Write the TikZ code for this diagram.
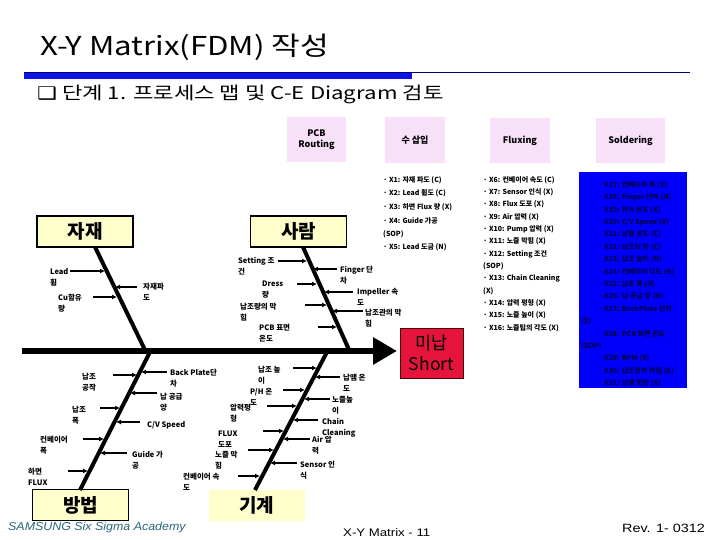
\documentclass[tikz,border=0pt]{standalone}
\usepackage{fontspec}
\setmainfont{Noto Sans CJK KR}
\newfontfamily\libsans{Liberation Sans}
\newfontfamily\djsans{DejaVu Sans}
\usetikzlibrary{arrows.meta}
\definecolor{barblue}{RGB}{10,20,230}
\definecolor{navyline}{RGB}{0,0,110}
\definecolor{pinkfill}{RGB}{249,224,249}
\definecolor{catfill}{RGB}{255,255,204}
\definecolor{shortred}{RGB}{228,20,60}
\definecolor{boxblue}{RGB}{0,0,250}
\definecolor{bluetxt}{RGB}{0,0,70}
\definecolor{teal}{RGB}{40,100,120}
\tikzset{
  pinkbox/.style={fill=pinkfill, font=\bfseries\fontsize{9}{11}\selectfont, align=center, inner sep=0},
  catbox/.style={fill=catfill, draw=black, line width=1.3pt, minimum width=96pt, minimum height=31pt, inner sep=0, font=\bfseries\fontsize{19}{22}\selectfont},
  bone/.style={line width=4pt},
  subarrow/.style={line width=1.3pt, -{Latex[length=5pt,width=5pt]}},
  lbl/.style={anchor=north west, inner sep=0, align=left, font=\bfseries\fontsize{7.5}{11}\selectfont},
  listtxt/.style={anchor=west, inner sep=0, font=\bfseries\fontsize{7}{8}\selectfont},
}
\begin{document}
\begin{tikzpicture}[x=1pt,y=-1pt]
\useasboundingbox (0,0) rectangle (720,540);
% header
\node[anchor=west, inner sep=0, font=\fontsize{26}{30}\selectfont] (title) at (40,47) {\scalebox{1.2}[1]{X-Y Matrix(FDM) 작성}};
\fill[barblue] (24,72) rectangle (412,79);
\draw[navyline, line width=1pt] (24,72.5) -- (690,72.5);
\node[anchor=west, inner sep=0, font=\fontsize{17.5}{20}\selectfont] (subtitle) at (37,94) {\scalebox{1.27}[1]{{\djsans ❑} 단계 1. 프로세스 맵 및 C-E Diagram 검토}};
% process boxes
\node[pinkbox, minimum width=59pt, minimum height=45pt] (pcb) at (316.5,139.5) {PCB\\Routing};
\node[pinkbox, minimum width=60pt, minimum height=46pt] (ins) at (415,140) {수 삽입};
\node[pinkbox, minimum width=60pt, minimum height=45pt] (flux) at (520,140.5) {Fluxing};
\node[pinkbox, minimum width=69pt, minimum height=45pt] (sold) at (630.5,140.5) {Soldering};
% list 1
\foreach \t [count=\i from 0] in {{· X1: 자재 파도 (C)},{· X2: Lead 휨도 (C)},{· X3: 하면 Flux 량 (X)},{· X4: Guide 가공},{(SOP)},{· X5: Lead 도금 (N)}}
  \node[listtxt] (la\i) at (383,180+13.5*\i) {\t};
% list 2
\foreach \t [count=\i from 0] in {{· X6: 컨베이어 속도 (C)},{· X7: Sensor 인식 (X)},{· X8: Flux 도포 (X)},{· X9: Air 압력 (X)},{· X10: Pump 압력 (X)},{· X11: 노즐 막힘 (X)},{· X12: Setting 조건},{(SOP)},{· X13: Chain Cleaning},{(X)},{· X14: 압력 평형 (X)},{· X15: 노즐 높이 (X)},{· X16: 노즐팁의 각도 (X)}}
  \node[listtxt] (lb\i) at (483,180+12.33*\i) {\t};
% list 3 (blue box)
\fill[boxblue] (579,172) rectangle (687,388);
\foreach \t [count=\i from 0] in {{· X17: 컨베이어 폭 (X)},{· X18: Finger 단차 (N)},{· X19: P/H 온도 (X)},{· X20: C/V Speed (X)},{· X21: 납땜 온도 (C)},{· X22: 납조의 양 (C)},{· X23: 납조 높이 (N)},{· X24: 컨베이어 각도 (N)},{· X25: 납조 폭 (N)},{· X26: 납 공급 양 (N)},{· X27: BackPlate 단차},{(X)},{· X28: PCB 표면 온도},{(SOP)},{· X29: RPM (X)},{· X30: 납조관의 막힘 (X)},{· X31: 납땜 방향 (X)}}
  \node[listtxt, text=bluetxt] (lc\i) at (\ifnum\i=11 581\else\ifnum\i=13 581\else 598\fi\fi,185+12.4*\i) {\t};
% category boxes
\node[catbox] (mat) at (85,231.5) {자재};
\node[catbox] (man) at (298.5,231.5) {사람};
\node[catbox] (meth) at (80.5,505) {방법};
\node[catbox, draw=none] (mach) at (256.5,505) {기계};
% effect
\node[fill=shortred, draw=black!70!red, line width=1pt, minimum width=63pt, minimum height=50pt, inner sep=0, align=center, font=\fontsize{17.5}{21}\selectfont] (eff) at (431.5,353) {미납\\Short};
% spine
\coordinate (sp0) at (22,351);
\coordinate (sp1) at (397,351);
\draw[line width=6pt, -{Triangle[length=24pt,width=26pt]}] (sp0) -- (sp1);
% bones
\draw[bone] (95,247) -- (146,352);
\draw[bone] (303,247) -- (350,352);
\draw[bone] (151,350) -- (80,490);
\draw[bone] (328,350) -- (255,490);
% material
\node[lbl] at (50,268) {Lead\\휨};
\draw[subarrow] (70,271) -- (105,271);
\node[lbl] at (58,294) {Cu함유\\량};
\draw[subarrow] (93,297) -- (117,297);
\node[lbl] at (143,283) {자재파\\도};
\draw[subarrow] (137,287) -- (115,287);
% man
\node[lbl] at (238,257) {Setting 조\\건};
\draw[subarrow] (278,261) -- (307,261);
\node[lbl] at (262,281) {Dress\\량};
\draw[subarrow] (297,284) -- (317,284);
\node[lbl] at (240,303) {납조량의 막\\힘};
\draw[subarrow] (305,305) -- (327,305);
\node[lbl] at (259,324) {PCB 표면\\온도};
\draw[subarrow] (318,327) -- (337,327);
\node[lbl] at (340,266) {Finger 단\\차};
\draw[subarrow] (337,269) -- (313,269);
\node[lbl] at (357,288) {Impeller 속\\도};
\draw[subarrow] (353,292) -- (324,292);
\node[lbl] at (365,309) {납조관의 막\\힘};
\draw[subarrow] (363,311) -- (332,311);
% method
\node[lbl] at (82,373) {납조\\공작};
\draw[subarrow] (113,375) -- (137,375);
\node[lbl] at (72,406) {납조\\폭};
\draw[subarrow] (100,408) -- (120,408);
\node[lbl] at (40,436) {컨베이어\\폭};
\draw[subarrow] (83,439) -- (104,439);
\node[lbl] at (28,468) {하면\\FLUX};
\draw[subarrow] (68,471) -- (88,471);
\node[lbl] at (170,369) {Back Plate단\\차};
\draw[subarrow] (167,372) -- (141,372);
\node[lbl] at (160,393) {납 공급\\양};
\draw[subarrow] (157,393) -- (130,393);
\node[lbl] at (147,421) {C/V Speed};
\draw[subarrow] (140,422) -- (116,422);
\node[lbl] at (132,451) {Guide 가\\공};
\draw[subarrow] (127,453) -- (100,453);
% machine
\node[lbl] at (258,366) {납조 높\\이};
\draw[subarrow] (293,368) -- (317,368);
\node[lbl] at (250,388) {P/H 온\\도};
\draw[subarrow] (283,390) -- (305,390);
\node[lbl] at (230,404) {압력평\\형};
\draw[subarrow] (267,406) -- (297,406);
\node[lbl] at (218,431) {FLUX\\도포};
\draw[subarrow] (263,431) -- (284,431);
\node[lbl] at (215,451) {노즐 막\\힘};
\draw[subarrow] (248,450) -- (274,450);
\node[lbl] at (183,473) {컨베이어 속\\도};
\draw[subarrow] (238,476) -- (260,476);
\node[lbl] at (343,374) {납땜 온\\도};
\draw[subarrow] (340,377) -- (315,377);
\node[lbl] at (332,396) {노즐높\\이};
\draw[subarrow] (330,399) -- (304,399);
\node[lbl] at (322,418) {Chain\\Cleaning};
\draw[subarrow] (318,420) -- (293,420);
\node[lbl] at (312,436) {Air 압\\력};
\draw[subarrow] (310,439) -- (283,439);
\node[lbl] at (300,461) {Sensor 인\\식};
\draw[subarrow] (297,463) -- (270,463);
% footer
\node[anchor=west, inner sep=0, text=teal, font=\libsans\itshape\fontsize{11.5}{13}\selectfont] (foot1) at (8,528) {\scalebox{1.08}[1]{SAMSUNG Six Sigma Academy}};
\node[anchor=west, inner sep=0, font=\libsans\fontsize{11}{13}\selectfont] (foot2) at (343,533) {\scalebox{1.2}[1]{X-Y Matrix - 11}};
\node[anchor=west, inner sep=0, font=\libsans\fontsize{12}{14}\selectfont] (foot3) at (622,528) {\scalebox{1.2}[1]{Rev. 1- 0312}};
\end{tikzpicture}
\end{document}
